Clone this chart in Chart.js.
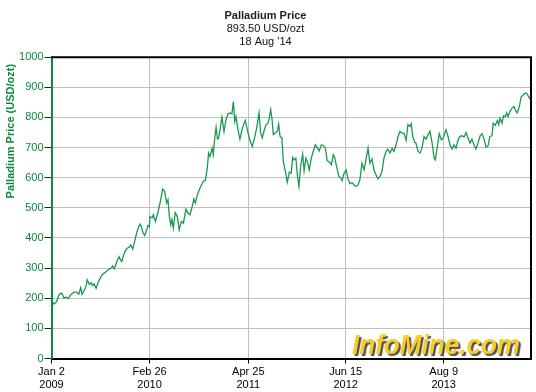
<!DOCTYPE html>
<html>
<head>
<meta charset="utf-8">
<script src="https://cdn.jsdelivr.net/npm/chart.js@4.4.1/dist/chart.umd.min.js"></script>
<style>
  html, body { margin: 0; padding: 0; background: #fff; }
  #wrap { width: 536px; height: 392px; }
</style>
</head>
<body>
<div id="wrap"><canvas id="chart" width="536" height="392"></canvas></div>
<script>
// Days counted from Jan 2 2009, price in USD/ozt
const days = [
  0, 11, 22, 33, 44, 54, 62, 72, 82, 91, 96, 108, 117, 125, 131, 139, 148, 153, 162, 170,
  176, 182, 191, 200, 211, 219, 229, 239, 248, 256, 262, 268, 273, 282, 290, 296, 301, 308, 316, 325,
  333, 339, 348, 356, 362, 368, 374, 379, 385, 391, 399, 408, 413, 419, 422, 431, 436, 445, 455, 465,
  476, 485, 493, 499, 505, 511, 516, 522, 530, 539, 547, 556, 565, 576, 585, 593, 602, 610, 616, 625,
  633, 642, 650, 659, 667, 673, 679, 688, 693, 699, 705, 711, 716, 722, 730, 739, 747, 756, 765, 773,
  779, 785, 790, 799, 807, 816, 825, 830, 839, 849, 860, 870, 879, 889, 896, 903, 910, 919, 927, 933,
  939, 945, 950, 959, 967, 973, 979, 987, 993, 1002, 1010, 1019, 1027, 1033, 1039, 1047, 1053, 1060, 1067, 1076,
  1082, 1090, 1096, 1104, 1113, 1121, 1130, 1139, 1147, 1156, 1164, 1173, 1181, 1190, 1199, 1207, 1213, 1222, 1230, 1239,
  1245, 1252, 1262, 1270, 1279, 1287, 1296, 1304, 1313, 1321, 1330, 1339, 1347, 1356, 1364, 1373, 1381, 1390, 1398, 1407,
  1416, 1424, 1433, 1441, 1450, 1459, 1467, 1476, 1484, 1493, 1501, 1510, 1519, 1527, 1536, 1541, 1547, 1556, 1561, 1570,
  1579, 1587, 1596, 1604, 1613, 1621, 1630, 1639, 1644, 1653, 1661, 1670, 1678, 1690, 1698, 1707, 1716, 1724, 1733, 1741,
  1750, 1759, 1767, 1776, 1784, 1793, 1801, 1810, 1818, 1827, 1836, 1844, 1853, 1861, 1870, 1878, 1887, 1892, 1901, 1910,
  1916, 1921, 1930, 1936, 1944, 1950, 1955, 1964, 1973, 1981, 1990, 1995, 2004, 2012, 2021, 2030, 2038, 2044, 2050, 2054
];
const prices = [
  191, 181, 189, 213, 217, 200, 204, 199, 211, 217, 220, 220, 213, 235, 213, 225, 240, 261, 246, 251,
  242, 248, 233, 253, 270, 280, 285, 292, 297, 300, 307, 297, 305, 327, 338, 327, 322, 341, 357, 366,
  370, 377, 363, 388, 408, 426, 437, 446, 438, 419, 408, 427, 441, 437, 471, 466, 477, 455, 482, 516,
  562, 554, 516, 527, 471, 443, 462, 433, 484, 471, 427, 455, 449, 496, 482, 477, 502, 529, 516, 543,
  560, 576, 587, 591, 629, 682, 670, 698, 676, 728, 768, 728, 731, 759, 801, 753, 790, 812, 815, 812,
  853, 787, 803, 759, 728, 759, 781, 790, 759, 726, 704, 732, 765, 815, 748, 732, 754, 776, 781, 798,
  826, 792, 743, 748, 754, 778, 737, 732, 654, 621, 585, 619, 615, 667, 659, 665, 610, 571, 637, 678,
  623, 665, 654, 626, 665, 687, 709, 698, 689, 709, 707, 698, 656, 652, 643, 676, 667, 634, 607, 599,
  590, 612, 626, 596, 580, 584, 576, 571, 576, 593, 648, 626, 660, 698, 648, 662, 626, 610, 596, 604,
  621, 665, 687, 695, 682, 698, 687, 709, 735, 754, 748, 748, 724, 776, 770, 779, 739, 717, 715, 687,
  682, 698, 737, 728, 742, 754, 717, 665, 659, 704, 746, 726, 732, 759, 739, 709, 695, 709, 698, 724,
  737, 739, 735, 750, 732, 715, 728, 709, 695, 715, 739, 746, 728, 702, 706, 737, 739, 781, 774, 790,
  776, 798, 781, 806, 803, 815, 803, 820, 831, 836, 820, 815, 836, 868, 875, 881, 878, 868, 861, 881
];

// X axis ticks
const tickDays = [0, 420, 843, 1260, 1680];
const tickDates = ['Jan 2', 'Feb 26', 'Apr 25', 'Jun 15', 'Aug 9'];
const tickYears = ['2009', '2010', '2011', '2012', '2013'];
const lastDay = 2054;

const GREEN_TEXT = '#0b8a3e';
const GREEN_LINE = '#1a9a50';
const FONT = "'Liberation Sans', Arial, sans-serif";

// Cadre noir en haut / à droite, titre de l'axe Y et filigrane
const framePlugin = {
    id: 'frame',
    beforeDatasetsDraw(chart) {
        const ctx = chart.ctx;
        const a = chart.chartArea;
        ctx.save();
        ctx.font = "italic bold 27px " + FONT;
        ctx.textAlign = 'right';
        ctx.textBaseline = 'alphabetic';
        ctx.shadowColor = 'rgba(60,60,60,0.9)';
        ctx.shadowOffsetX = 2;
        ctx.shadowOffsetY = 2;
        ctx.shadowBlur = 1;
        ctx.fillStyle = '#f7cc2a';
        ctx.fillText('InfoMine.com', a.right - 11, a.bottom - 5, 168);
        ctx.restore();
    },
    afterDraw(chart) {
        const ctx = chart.ctx;
        const a = chart.chartArea;
        ctx.save();
        ctx.strokeStyle = '#000';
        ctx.lineWidth = 2;
        ctx.beginPath();
        ctx.moveTo(a.left, a.top);
        ctx.lineTo(a.right, a.top);
        ctx.lineTo(a.right, a.bottom);
        ctx.stroke();

        // titre de l'axe Y (placé vers le haut comme sur l'original)
        ctx.translate(11, a.top + 74);
        ctx.rotate(-Math.PI / 2);
        ctx.font = "bold 11px " + FONT;
        ctx.fillStyle = GREEN_TEXT;
        ctx.textAlign = 'center';
        ctx.textBaseline = 'middle';
        ctx.fillText('Palladium Price (USD/ozt)', 0, 0);
        ctx.restore();
    }
};

const points = days.map((d, i) => ({ x: d, y: prices[i] }));

new Chart(document.getElementById('chart'), {
    type: 'line',
    data: {
        datasets: [{
            label: 'Palladium',
            data: points,
            borderColor: GREEN_LINE,
            borderWidth: 1.3,
            pointRadius: 0,
            fill: false,
            tension: 0
        }]
    },
    options: {
        responsive: false,
        animation: false,
        layout: { padding: { left: 0, right: 5, top: 0, bottom: 0 } },
        plugins: {
            legend: { display: false },
            tooltip: { enabled: false },
            title: {
                display: true,
                text: 'Palladium Price',
                color: '#222',
                font: { family: FONT, size: 11, weight: 'bold', lineHeight: 1.2 },
                padding: { top: 9, bottom: 0 }
            },
            subtitle: {
                display: true,
                text: ['893.50 USD/ozt', "18 Aug '14"],
                color: '#111',
                font: { family: FONT, size: 11, lineHeight: 1.18 },
                padding: { top: 0, bottom: 9 }
            }
        },
        scales: {
            x: {
                type: 'linear',
                min: 0,
                max: lastDay,
                afterBuildTicks: function(scale) {
                    scale.ticks = tickDays.map(v => ({ value: v }));
                },
                afterFit: function(scale) { scale.height = 33.5; },
                grid: { color: '#c0c0c0', lineWidth: 1, tickColor: '#000', tickLength: 5 },
                border: { color: '#000', width: 2 },
                ticks: {
                    autoSkip: false,
                    maxRotation: 0,
                    padding: 2,
                    color: '#000',
                    font: { family: FONT, size: 11, lineHeight: 1.2 },
                    callback: function(value) {
                        const i = tickDays.indexOf(value);
                        return i < 0 ? '' : [tickDates[i], tickYears[i]];
                    }
                }
            },
            y: {
                min: 0,
                max: 1000,
                afterFit: function(scale) { scale.width = 51.5; },
                grid: { color: '#c0c0c0', lineWidth: 1, tickColor: '#222', tickLength: 7 },
                border: { color: GREEN_TEXT, width: 2 },
                ticks: {
                    stepSize: 100,
                    padding: 1,
                    color: GREEN_TEXT,
                    font: { family: FONT, size: 11 },
                    callback: function(value) { return String(value); }
                },
                title: { display: false }
            }
        }
    },
    plugins: [framePlugin]
});
</script>
</body>
</html>
